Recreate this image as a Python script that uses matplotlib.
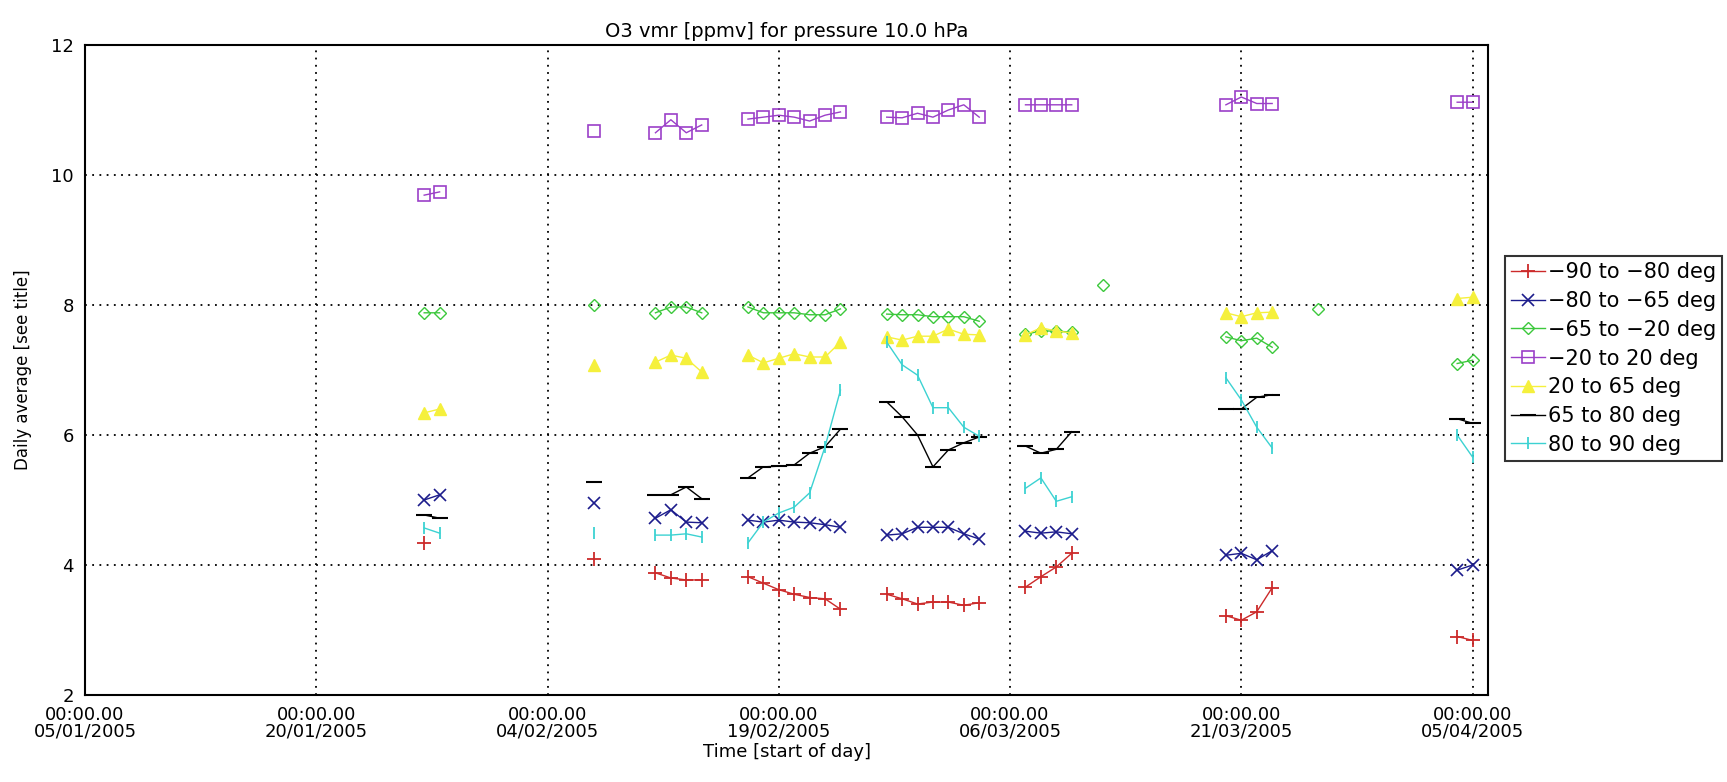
import numpy as np
import pandas as pd
import matplotlib
matplotlib.use("Agg")
import matplotlib.pyplot as plt

nan = np.nan

# observation days (dd/mm/2005)
obs_dates = ["27/01", "28/01", "07/02",
             "11/02", "12/02", "13/02", "14/02",
             "17/02", "18/02", "19/02", "20/02", "21/02", "22/02", "23/02",
             "26/02", "27/02", "28/02", "01/03", "02/03", "03/03", "04/03",
             "07/03", "08/03", "09/03", "10/03", "12/03",
             "20/03", "21/03", "22/03", "23/03", "26/03",
             "04/04", "05/04"]

lat_90_80 = [4.34, nan, 4.10, 3.88, 3.80, 3.77, 3.77, 3.82, 3.72, 3.62, 3.55, 3.50, 3.48, 3.32,
             3.55, 3.48, 3.40, 3.43, 3.43, 3.38, 3.42, 3.66, 3.82, 3.97, 4.18, nan,
             3.22, 3.15, 3.28, 3.65, nan, 2.90, 2.84]
lat_80_65 = [5.00, 5.08, 4.95, 4.72, 4.85, 4.66, 4.65, 4.69, 4.66, 4.69, 4.66, 4.65, 4.62, 4.58,
             4.46, 4.48, 4.58, 4.58, 4.58, 4.48, 4.40, 4.52, 4.49, 4.51, 4.48, nan,
             4.15, 4.18, 4.08, 4.22, nan, 3.92, 4.00]
lat_65_20 = [7.88, 7.88, 8.00, 7.88, 7.97, 7.97, 7.88, 7.97, 7.88, 7.88, 7.88, 7.85, 7.85, 7.94,
             7.86, 7.85, 7.85, 7.82, 7.82, 7.82, 7.75, 7.55, 7.60, 7.60, 7.58, 8.31,
             7.51, 7.45, 7.49, 7.35, 7.94, 7.10, 7.15]
lat_20_20 = [9.69, 9.74, 10.68, 10.65, 10.85, 10.65, 10.77, 10.86, 10.89, 10.92, 10.89, 10.83, 10.92, 10.97,
             10.89, 10.88, 10.95, 10.89, 11.00, 11.08, 10.89, 11.08, 11.08, 11.08, 11.08, nan,
             11.08, 11.20, 11.10, 11.10, nan, 11.12, 11.12]
lat20_65 = [6.34, 6.40, 7.08, 7.12, 7.23, 7.18, 6.97, 7.23, 7.11, 7.18, 7.25, 7.20, 7.20, 7.43,
            7.51, 7.46, 7.52, 7.52, 7.63, 7.55, 7.54, 7.54, 7.65, 7.60, 7.57, nan,
            7.88, 7.82, 7.88, 7.89, nan, 8.10, 8.12]
lat65_80 = [4.77, 4.72, 5.28, 5.08, 5.08, 5.20, 5.02, 5.34, 5.51, 5.52, 5.54, 5.72, 5.82, 6.09,
            6.51, 6.28, 6.00, 5.51, 5.77, 5.88, 5.97, 5.83, 5.72, 5.78, 6.05, nan,
            6.40, 6.40, 6.58, 6.62, nan, 6.25, 6.18]
lat80_90 = [4.57, 4.49, 4.49, 4.46, 4.46, 4.48, 4.43, 4.34, 4.66, 4.80, 4.89, 5.11, 5.82, 6.69,
            7.43, 7.08, 6.92, 6.42, 6.42, 6.12, 5.98, 5.18, 5.34, 4.98, 5.05, nan,
            6.88, 6.54, 6.12, 5.80, nan, 6.00, 5.66]

labels = ["\u221290 to \u221280 deg", "\u221280 to \u221265 deg", "\u221265 to \u221220 deg",
          "\u221220 to 20 deg", "20 to 65 deg", "65 to 80 deg", "80 to 90 deg"]
tick_dates = ["05/01", "20/01", "04/02", "19/02", "06/03", "21/03", "05/04"]

series = [lat_90_80, lat_80_65, lat_65_20, lat_20_20, lat20_65, lat65_80, lat80_90]
styles = [
    dict(color="#cc2a2a", marker="+", ms=10, mew=1.3),
    dict(color="#1c1c8c", marker="x", ms=9, mew=1.2),
    dict(color="#3cc83c", marker="D", ms=6, mfc="none", mew=1.0),
    dict(color="#9b3fc8", marker="s", ms=9, mfc="none", mew=1.2),
    dict(color="#f5f03c", marker="^", ms=8, mew=1.0),
    dict(color="black", marker="_", ms=12, mew=1.5),
    dict(color="#3cd2d2", marker="|", ms=9, mew=1.3),
]

dates = pd.to_datetime([d + "/2005" for d in obs_dates], format="%d/%m/%Y")

fig = plt.figure(figsize=(17.27, 7.82), dpi=100)
ax = fig.add_axes([85 / 1727, 1 - 695 / 782, (1488 - 85) / 1727, (695 - 45) / 782])

for vals, lab, st in zip(series, labels, styles):
    s = pd.Series(vals, index=dates).asfreq("D")
    ax.plot(s.index, s.values, lw=1.0, label=lab, **st)

ax.set_xlim(pd.Timestamp("2005-01-05"), pd.Timestamp("2005-04-06"))
ax.set_ylim(2, 12)
ax.set_yticks([2, 4, 6, 8, 10, 12])
xt = pd.to_datetime([d + "/2005" for d in tick_dates], format="%d/%m/%Y")
ax.set_xticks(xt)
ax.set_xticklabels(["00:00.00\n" + d.strftime("%d/%m/%Y") for d in xt], linespacing=0.9)
ax.tick_params(length=0, labelsize=13, pad=8)
ax.grid(True, color="black", linestyle=(0, (1, 3)), linewidth=1.3)
for sp in ax.spines.values():
    sp.set_linewidth(1.5)

ax.set_title("O3 vmr [ppmv] for pressure 10.0 hPa", fontsize=14, pad=6)
ax.set_xlabel("Time [start of day]", fontsize=13, labelpad=2)
ax.set_ylabel("Daily average [see title]", fontsize=12, labelpad=14)

leg = fig.legend(loc="upper left", bbox_to_anchor=(1505 / 1727, 1 - 256 / 782),
                 fontsize=15, frameon=True, fancybox=False, handlelength=1.6,
                 handletextpad=0.15, borderpad=0.3, labelspacing=0.42, borderaxespad=0)
leg.get_frame().set_edgecolor("black")
leg.get_frame().set_linewidth(1.5)

fig.savefig("out.png", dpi=100)
